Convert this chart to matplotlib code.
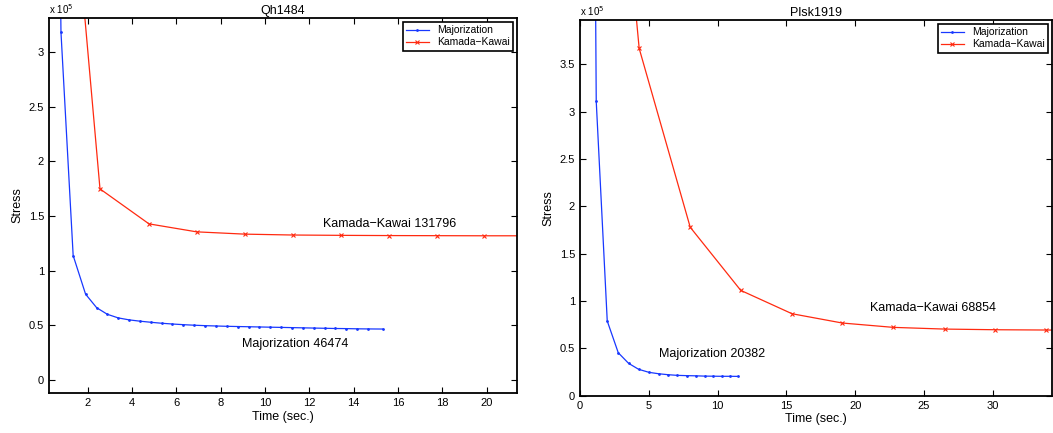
import matplotlib
matplotlib.use("Agg")
import matplotlib.pyplot as plt

plt.rcParams['font.family'] = ['Liberation Sans', 'DejaVu Sans']

# stress values are in units of 10^5
# --- Qh1484 ---
qh_maj_t = [0.72, 0.80, 1.35, 1.91, 2.41, 2.89, 3.38, 3.87, 4.36, 4.85, 5.34, 5.83,
            6.32, 6.81, 7.30, 7.79, 8.28, 8.77, 9.26, 9.75, 10.24, 10.73, 11.22,
            11.71, 12.20, 12.69, 13.18, 13.67, 14.16, 14.65, 15.31]
qh_maj_s = [4.6, 3.18, 1.137, 0.784, 0.66, 0.60, 0.567, 0.549, 0.537, 0.527, 0.518,
            0.511, 0.505, 0.500, 0.496, 0.493, 0.490, 0.488, 0.486, 0.484, 0.482,
            0.480, 0.478, 0.476, 0.474, 0.472, 0.470, 0.469, 0.467, 0.466, 0.465]
qh_kk_t = [0.40, 2.56, 4.77, 6.92, 9.10, 11.25, 13.41, 15.58, 17.74, 19.89, 22.06]
qh_kk_s = [6.7, 1.747, 1.427, 1.354, 1.333, 1.325, 1.322, 1.320, 1.319, 1.318, 1.318]

# --- Plsk1919 ---
pl_maj_t = [0.40, 1.18, 1.98, 2.78, 3.53, 4.26, 5.01, 5.71, 6.39, 7.06, 7.74, 8.42,
            9.05, 9.68, 10.30, 10.90, 11.50]
pl_maj_s = [20.0, 3.11, 0.789, 0.454, 0.342, 0.279, 0.247, 0.232, 0.222, 0.215,
            0.212, 0.210, 0.207, 0.206, 0.205, 0.205, 0.204]
pl_kk_t = [0.60, 4.30, 8.01, 11.68, 15.41, 19.06, 22.77, 26.49, 30.19, 33.90, 37.60]
pl_kk_s = [9.4, 3.67, 1.78, 1.113, 0.866, 0.768, 0.722, 0.704, 0.697, 0.694, 0.689]

panels = [
    dict(title="Qh1484", maj_t=qh_maj_t, maj_s=qh_maj_s, kk_t=qh_kk_t, kk_s=qh_kk_s,
         xlim=(0.26, 21.37), ylim=(-0.12, 3.31),
         xticks=[2, 4, 6, 8, 10, 12, 14, 16, 18, 20],
         yticks=[0, 0.5, 1, 1.5, 2, 2.5, 3],
         kk_label=("Kamada\u2212Kawai 131796", 12.6, 1.425),
         maj_label=("Majorization 46474", 8.95, 0.33),
         pos=[49 / 1053, 1 - 393 / 433, 468 / 1053, 375 / 433]),
    dict(title="Plsk1919", maj_t=pl_maj_t, maj_s=pl_maj_s, kk_t=pl_kk_t, kk_s=pl_kk_s,
         xlim=(0, 34.3), ylim=(0, 3.97),
         xticks=[0, 5, 10, 15, 20, 25, 30],
         yticks=[0, 0.5, 1, 1.5, 2, 2.5, 3, 3.5],
         kk_label=("Kamada\u2212Kawai 68854", 21.05, 0.93),
         maj_label=("Majorization 20382", 5.76, 0.437),
         pos=[580 / 1053, 1 - 395.7 / 433, 472 / 1053, 375.7 / 433]),
]

blue = "#1838ff"
red = "#ff2a10"

fig = plt.figure(figsize=(10.53, 4.33), dpi=100)
for p in panels:
    ax = fig.add_axes(p["pos"])
    ax.plot(p["maj_t"], p["maj_s"], color=blue, lw=0.9, marker=".", ms=2,
            label="Majorization")
    ax.plot(p["kk_t"], p["kk_s"], color=red, lw=0.9, marker="x", ms=3.5, mew=0.8,
            label="Kamada\u2212Kawai")
    ax.set_xlim(*p["xlim"])
    ax.set_ylim(*p["ylim"])
    ax.set_xticks(p["xticks"])
    ax.set_yticks(p["yticks"])
    ax.set_xticklabels([f"{v:g}" for v in p["xticks"]])
    ax.set_yticklabels([f"{v:g}" for v in p["yticks"]])
    ax.tick_params(direction="in", top=True, right=True, labelsize=8,
                   length=4, width=0.8)
    for s in ax.spines.values():
        s.set_linewidth(1.3)
    ax.set_title(p["title"], fontsize=9, pad=3)
    ax.set_xlabel("Time (sec.)", fontsize=9, labelpad=2)
    ax.set_ylabel("Stress", fontsize=9, labelpad=4)
    ax.text(0.0, 1.005, "x 10$^5$", transform=ax.transAxes, fontsize=7,
            ha="left", va="bottom")
    t, x, y = p["kk_label"]
    ax.text(x, y, t, fontsize=9, ha="left", va="center")
    t, x, y = p["maj_label"]
    ax.text(x, y, t, fontsize=9, ha="left", va="center")
    leg = ax.legend(loc="upper right", fontsize=7.5, fancybox=False,
                    borderaxespad=0.4, handlelength=2.2, borderpad=0.3,
                    labelspacing=0.2, framealpha=1)
    leg.get_frame().set_edgecolor("black")
    leg.get_frame().set_linewidth(1.2)

fig.savefig("out.png", dpi=100)
